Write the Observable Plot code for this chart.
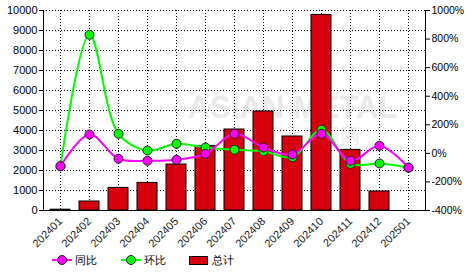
<!DOCTYPE html>
<html>
<head>
<meta charset="utf-8">
<script src="https://cdn.jsdelivr.net/npm/d3@7"></script>
<script src="https://cdn.jsdelivr.net/npm/@observablehq/plot@0.6"></script>
<style>
  html, body { margin: 0; padding: 0; background: #fff; }
  #wrap { position: relative; width: 466px; height: 272px; font-family: "Liberation Sans", Arial, sans-serif; }
  #legend { position: absolute; left: 0; top: 248px; width: 466px; height: 24px; font-size: 11px; color: #000; }
  .item { position: absolute; top: 4px; height: 16px; display: flex; align-items: center; }
  .item span { margin-left: 3px; }
</style>
</head>
<body>
<div id="wrap">
  <div id="chart"></div>
  <div id="legend"></div>
</div>
<script>
const categories = ["202401","202402","202403","202404","202405","202406","202407","202408","202409","202410","202411","202412","202501"];
const totals = [40, 450, 1130, 1380, 2300, 3230, 4050, 4950, 3700, 9780, 3030, 950, 0];
const yoy = [-90, 132, -38, -52, -45, -3, 137, 41, -8, 137, -52, 53, -100];
const mom = [-90, 830, 137, 20, 67, 41, 25, 15, -27, 165, -73, -71, -100];
const yTicks = [0,1000,2000,3000,4000,5000,6000,7000,8000,9000,10000];
const pctTicks = [-400,-200,0,200,400,600,800,1000];
const seriesNames = ["同比", "环比", "总计"];
const colors = {yoy: "#ff00ff", mom: "#00ff00", total: "#d7000f"};

const toY = p => (p + 400) / 1400 * 10000;
const fromY = y => Math.round(y * 1400 / 10000 - 400);

const data = categories.map((c, i) => ({cat: c, total: totals[i], yoy: yoy[i], mom: mom[i]}));
const dotted = {stroke: "#000", strokeOpacity: 1, strokeDasharray: "1,2", strokeWidth: 1};

const chart = Plot.plot({
  width: 466, height: 248,
  marginLeft: 43, marginRight: 41, marginTop: 10, marginBottom: 38,
  style: {fontFamily: "Liberation Sans, Arial, sans-serif", fontSize: "11px", color: "#000", background: "white", overflow: "visible"},
  x: {type: "band", domain: categories, paddingInner: 0.3, paddingOuter: 0.15, label: null},
  y: {domain: [0, 10000], label: null},
  marks: [
    Plot.text(["ASIAN METAL"], {frameAnchor: "middle", dx: 58, dy: -2, fontSize: 31, fontWeight: "bold", fill: "#e9e9e9"}),
    Plot.text(["亚洲金属网"], {frameAnchor: "middle", dx: 75, dy: 26, fontSize: 20, fill: "#eeeeee"}),
    Plot.gridY(yTicks, dotted),
    Plot.gridX(dotted),
    Plot.barY(data.filter(d => d.total > 0), {x: "cat", y: "total", fill: colors.total, stroke: "#000", strokeWidth: 1}),
    Plot.line(data, {x: "cat", y: d => toY(d.mom), stroke: colors.mom, strokeWidth: 2, curve: "catmull-rom"}),
    Plot.dot(data, {x: "cat", y: d => toY(d.mom), r: 4.5, fill: colors.mom, stroke: "#222", strokeWidth: 1}),
    Plot.line(data, {x: "cat", y: d => toY(d.yoy), stroke: colors.yoy, strokeWidth: 2, curve: "catmull-rom"}),
    Plot.dot(data, {x: "cat", y: d => toY(d.yoy), r: 4.5, fill: colors.yoy, stroke: "#222", strokeWidth: 1}),
    Plot.ruleY([0], {stroke: "#000"}),
    Plot.frame({anchor: "left", stroke: "#000"}),
    Plot.frame({anchor: "right", stroke: "#000"}),
    Plot.axisY(yTicks, {anchor: "left", tickSize: 4, tickPadding: 2, tickFormat: d => String(d)}),
    Plot.axisY(pctTicks.map(toY), {anchor: "right", tickSize: 4, tickPadding: 2, fontSize: 10.5, tickFormat: d => fromY(d) + "%"}),
    Plot.axisX({tickRotate: -45, tickSize: 0, tickPadding: 9, fill: "#222"})
  ]
});
document.getElementById("chart").appendChild(chart);

const legend = document.getElementById("legend");
const items = [
  {name: seriesNames[0], color: colors.yoy, type: "line", left: 52},
  {name: seriesNames[1], color: colors.mom, type: "line", left: 121},
  {name: seriesNames[2], color: colors.total, type: "rect", left: 189}
];
items.forEach(it => {
  const div = document.createElement("div");
  div.className = "item";
  div.style.left = it.left + "px";
  const sw = it.type === "line"
    ? `<svg width="20" height="16"><line x1="0" y1="8" x2="20" y2="8" stroke="${it.color}" stroke-width="2"/><circle cx="10" cy="8" r="4.5" fill="${it.color}" stroke="#222"/></svg>`
    : `<svg width="20" height="16"><rect x="0.5" y="4.5" width="18" height="8" fill="${it.color}" stroke="#000"/></svg>`;
  div.innerHTML = sw + `<span>${it.name}</span>`;
  legend.appendChild(div);
});
</script>
</body>
</html>
